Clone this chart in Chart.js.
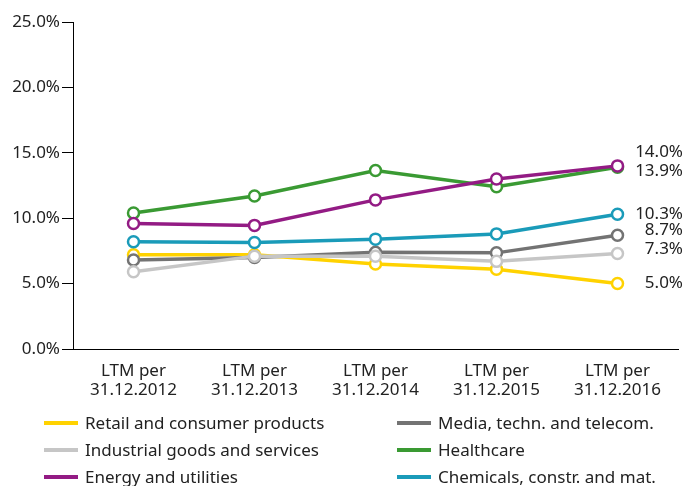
<!DOCTYPE html>
<html>
<head>
<meta charset="utf-8">
<script src="https://cdn.jsdelivr.net/npm/chart.js@4"></script>
<style>
  html, body { margin: 0; padding: 0; background: #fff; }
  #wrap { position: relative; width: 700px; height: 486px; }
  #legend { position: absolute; left: 0; top: 412px; width: 700px; height: 74px;
    font-family: 'Noto Sans', sans-serif; font-size: 17px; color: #222; }
  .item { position: absolute; height: 22px; line-height: 22px; white-space: nowrap; }
  .item i { position: absolute; left: 0; top: 9px; width: 34px; height: 4px; }
  .item span { position: absolute; left: 41px; top: 0; }
</style>
</head>
<body>
<div id="wrap">
  <canvas id="chart" width="700" height="486"></canvas>
  <div id="legend"></div>
</div>
<script>
// LTM margins by sector
var categories = [['LTM per', '31.12.2012'], ['LTM per', '31.12.2013'], ['LTM per', '31.12.2014'], ['LTM per', '31.12.2015'], ['LTM per', '31.12.2016']];

var retail     = [7.2, 7.2, 6.5, 6.1, 5.0];
var media      = [6.8, 7.0, 7.4, 7.35, 8.7];
var industrial = [5.9, 7.1, 7.1, 6.7, 7.3];
var healthcare = [10.4, 11.7, 13.65, 12.4, 13.9];
var energy     = [9.6, 9.45, 11.4, 13.0, 14.0];
var chemicals  = [8.2, 8.15, 8.4, 8.8, 10.3];

var yTicks = [0, 5, 10, 15, 20, 25];

// legend order: left column then right column, row by row
var series = [
  {label: 'Retail and consumer products', data: retail, color: '#ffd200'},
  {label: 'Media, techn. and telecom.', data: media, color: '#737373'},
  {label: 'Industrial goods and services', data: industrial, color: '#c6c6c6'},
  {label: 'Healthcare', data: healthcare, color: '#3a9a33'},
  {label: 'Energy and utilities', data: energy, color: '#931b84'},
  {label: 'Chemicals, constr. and mat.', data: chemicals, color: '#1a9bb9'}
];

var FONT = "'Noto Sans', sans-serif";

var endLabels = {
  id: 'endLabels',
  afterDatasetsDraw: function(chart) {
    var ctx = chart.ctx;
    var items = [];
    chart.data.datasets.forEach(function(ds, i) {
      var meta = chart.getDatasetMeta(i);
      var pt = meta.data[meta.data.length - 1];
      items.push({y: pt.y, text: ds.data[ds.data.length - 1].toFixed(1) + '%'});
    });
    items.sort(function(a, b) { return a.y - b.y; });
    // push apart labels that collide
    var gap = 19;
    for (var k = 1; k < items.length; k++) {
      var d = items[k].y - items[k - 1].y;
      if (d < gap) {
        var mid = (items[k].y + items[k - 1].y) / 2 - 5;
        items[k - 1].y = mid - gap / 2;
        items[k].y = mid + gap / 2;
      }
    }
    ctx.save();
    ctx.font = '17px ' + FONT;
    ctx.fillStyle = '#222';
    ctx.textAlign = 'right';
    ctx.textBaseline = 'middle';
    items.forEach(function(it) { ctx.fillText(it.text, 683, it.y); });
    ctx.restore();
  }
};

new Chart(document.getElementById('chart'), {
  type: 'line',
  data: {
    labels: categories,
    datasets: series.map(function(s) {
      return {
        label: s.label,
        data: s.data,
        borderColor: s.color,
        backgroundColor: '#fff',
        borderWidth: 3.5,
        pointRadius: 5.5,
        pointBorderWidth: 2.5,
        pointBackgroundColor: '#fff',
        pointBorderColor: s.color,
        tension: 0
      };
    }).reverse()
  },
  options: {
    responsive: false,
    animation: false,
    layout: { padding: { top: 22, right: 22, left: 0, bottom: 77 } },
    plugins: { legend: { display: false }, tooltip: { enabled: false } },
    scales: {
      x: {
        offset: true,
        grid: { display: false, drawOnChartArea: false, drawTicks: true, tickLength: 9, color: '#000', offset: false },
        border: { color: '#000', width: 1 },
        ticks: { color: '#222', font: { family: FONT, size: 17, lineHeight: 1.15 }, padding: 3, maxRotation: 0 },
        afterFit: function(s) { s.height = 60; }
      },
      y: {
        min: 0, max: 25,
        afterBuildTicks: function(s) { s.ticks = yTicks.map(function(v) { return {value: v}; }); },
        grid: { drawOnChartArea: false, drawTicks: true, tickLength: 11, color: '#000' },
        border: { color: '#000', width: 1 },
        ticks: { color: '#222', font: { family: FONT, size: 17 }, padding: 2,
          callback: function(v) { return v.toFixed(1) + '%'; } },
        afterFit: function(s) { s.width = 73; }
      }
    }
  },
  plugins: [endLabels]
});

// html legend, two columns
var legend = document.getElementById('legend');
series.forEach(function(s, i) {
  var col = i % 2, row = Math.floor(i / 2);
  var el = document.createElement('div');
  el.className = 'item';
  el.style.left = (col ? 397 : 44) + 'px';
  el.style.top = (row * 27) + 'px';
  el.innerHTML = '<i style="background:' + s.color + '"></i><span>' + s.label + '</span>';
  legend.appendChild(el);
});
</script>
</body>
</html>
